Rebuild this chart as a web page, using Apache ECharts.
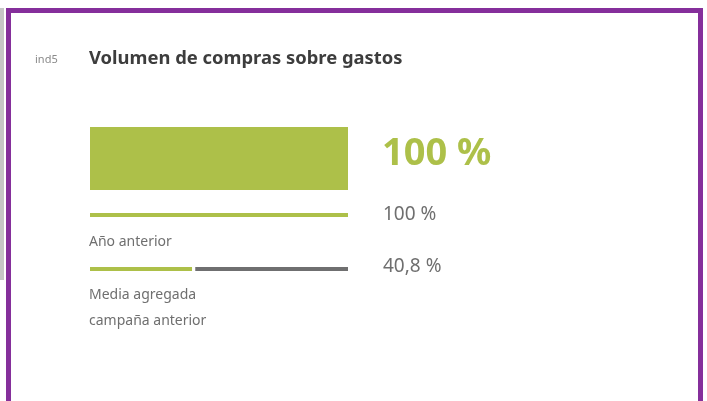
<!DOCTYPE html>
<html>
<head>
<meta charset="utf-8">
<script src="https://cdn.jsdelivr.net/npm/echarts@6/dist/echarts.min.js"></script>
<style>
  html, body { margin: 0; padding: 0; background: #fff; }
  #chart { width: 707px; height: 401px; }
</style>
</head>
<body>
<div id="chart"></div>
<script>
var indicatorCode = 'ind5';
var chartTitle = 'Volumen de compras sobre gastos';
var rowLabels = ['Año anterior', 'Media agregada\ncampaña anterior'];
var currentValue = 100;
var previousYear = 100;
var aggregateAvg = 40.8;
var axisMax = 100;

var green = '#adc049';
var grey = '#6f6f70';
var purple = '#852f9b';
var fontFamily = '"Noto Sans", "Open Sans", sans-serif';

function pct(v) {
    return String(v).replace('.', ',') + ' %';
}

var chart = echarts.init(document.getElementById('chart'));

var grids = [
    {left: 90, width: 258, top: 127, height: 63},
    {left: 90, width: 258, top: 213, height: 4},
    {left: 90, width: 258, top: 267, height: 4}
];

function xAx(i) {
    return {gridIndex: i, type: 'value', min: 0, max: axisMax, show: false};
}
function yAx(i) {
    return {gridIndex: i, type: 'category', data: ['v'], show: false};
}

// small white gap between the green and grey parts of the average line
var gap = 1.2;

var option = {
    animation: false,
    backgroundColor: '#fff',
    textStyle: {fontFamily: fontFamily},
    grid: grids,
    xAxis: [xAx(0), xAx(1), xAx(2)],
    yAxis: [yAx(0), yAx(1), yAx(2)],
    title: [
        {
            text: indicatorCode, left: 35, top: 54, padding: 0,
            textStyle: {fontSize: 11, fontWeight: 'normal', color: '#8a8a8a', fontFamily: fontFamily}
        },
        {
            text: chartTitle, left: 89, top: 50, padding: 0,
            textStyle: {fontSize: 18.4, fontWeight: 'bold', color: '#3d3d3d', fontFamily: fontFamily}
        },
        {
            text: rowLabels[0], left: 89, top: 235, padding: 0,
            textStyle: {fontSize: 14, fontWeight: 'normal', color: '#6f6f6f', fontFamily: fontFamily}
        },
        {
            text: rowLabels[1], left: 89, top: 282, padding: 0,
            textStyle: {fontSize: 14, fontWeight: 'normal', color: '#6f6f6f', lineHeight: 26, fontFamily: fontFamily}
        }
    ],
    graphic: [
        {type: 'rect', shape: {x: 0, y: 8, width: 4, height: 272}, style: {fill: '#c6c6c6'}},
        {type: 'rect', shape: {x: 6, y: 8, width: 697, height: 5}, style: {fill: purple}},
        {type: 'rect', shape: {x: 6, y: 8, width: 5, height: 393}, style: {fill: purple}},
        {type: 'rect', shape: {x: 698, y: 8, width: 5, height: 393}, style: {fill: purple}}
    ],
    series: [
        {
            type: 'bar', xAxisIndex: 0, yAxisIndex: 0, barWidth: '100%',
            data: [currentValue],
            itemStyle: {color: green},
            label: {
                show: true, position: 'right', distance: 34, offset: [0, -4],
                formatter: function (p) { return pct(p.value); },
                fontSize: 38, fontWeight: 'bold', color: green, fontFamily: fontFamily
            }
        },
        {
            type: 'bar', xAxisIndex: 1, yAxisIndex: 1, barWidth: '100%',
            data: [previousYear],
            itemStyle: {color: green},
            label: {
                show: true, position: 'right', distance: 35,
                formatter: function (p) { return pct(p.value); },
                fontSize: 19, color: '#6f6f6f', fontFamily: fontFamily
            }
        },
        {
            type: 'bar', xAxisIndex: 2, yAxisIndex: 2, barWidth: '100%', stack: 'avg',
            data: [aggregateAvg - gap],
            itemStyle: {color: green}
        },
        {
            type: 'bar', xAxisIndex: 2, yAxisIndex: 2, barWidth: '100%', stack: 'avg',
            data: [gap],
            itemStyle: {color: '#fff'}
        },
        {
            type: 'bar', xAxisIndex: 2, yAxisIndex: 2, barWidth: '100%', stack: 'avg',
            data: [axisMax - aggregateAvg],
            itemStyle: {color: grey},
            label: {
                show: true, position: 'right', distance: 35, offset: [0, -2],
                formatter: function () { return pct(aggregateAvg); },
                fontSize: 19, color: '#6f6f6f', fontFamily: fontFamily
            }
        }
    ]
};

chart.setOption(option);
</script>
</body>
</html>
